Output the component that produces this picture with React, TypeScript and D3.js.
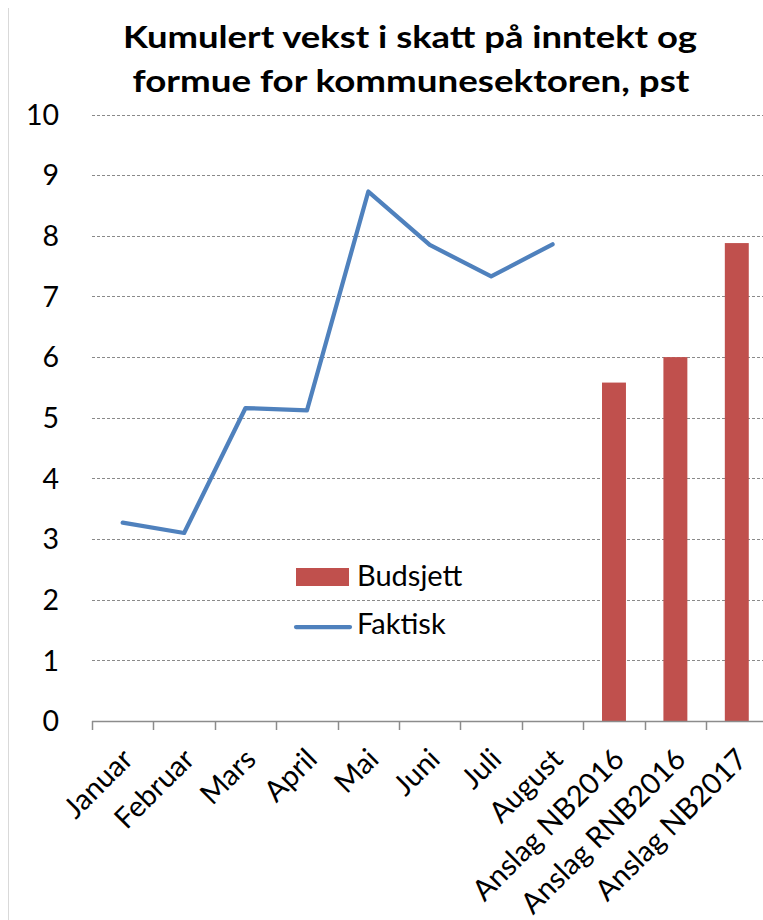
import React from "react";
import * as d3 from "d3";

const categories = [
  "Januar", "Februar", "Mars", "April", "Mai", "Juni", "Juli", "August",
  "Anslag NB2016", "Anslag RNB2016", "Anslag NB2017",
];
const faktisk = [3.27, 3.1, 5.16, 5.12, 8.73, 7.85, 7.33, 7.86];
const budsjett: (number | null)[] = [null, null, null, null, null, null, null, null, 5.58, 6.0, 7.88];
const yTicks = [0, 1, 2, 3, 4, 5, 6, 7, 8, 9, 10];
const titleLines = ["Kumulert vekst i skatt på inntekt og", "formue for kommunesektoren, pst"];

const W = 763, H = 920;
const FONT = "Lato, 'Open Sans', sans-serif";

export default function App() {
  const x = d3.scaleBand<string>().domain(categories).range([92, 767.5]).padding(0);
  const y = d3.scaleLinear().domain([0, 10]).range([721, 114.5]);
  const bw = x.bandwidth();
  const barW = bw * 0.39;
  const line = d3
    .line<number>()
    .x((_, i) => (x(categories[i]) as number) + bw / 2)
    .y((d) => y(d));

  return (
    <svg width={W} height={H} style={{ position: "absolute", left: 0, top: 0, background: "#fff" }}
      fontFamily={FONT}>
      <rect x={0} y={0} width={W} height={H} fill="#fff" />
      <line x1={8.5} x2={8.5} y1={8} y2={H} stroke="#d9d9d9" strokeWidth={1} />
      {/* title */}
      <text x={410} y={48} textAnchor="middle" fontWeight="bold" fontSize={30}
        textLength={574} lengthAdjust="spacingAndGlyphs" fill="#000">{titleLines[0]}</text>
      <text x={411} y={92} textAnchor="middle" fontWeight="bold" fontSize={30}
        textLength={557} lengthAdjust="spacingAndGlyphs" fill="#000">{titleLines[1]}</text>
      {/* gridlines */}
      {yTicks.filter((t) => t > 0).map((t) => (
        <line key={t} x1={92} x2={W} y1={Math.round(y(t)) + 0.5} y2={Math.round(y(t)) + 0.5}
          stroke="#8a8a8a" strokeWidth={1} strokeDasharray="3,2" />
      ))}
      {/* y labels */}
      {yTicks.map((t) => (
        <text key={t} x={59} y={y(t)} dy="0.36em" textAnchor="end" fontSize={28.5} fill="#000">{t}</text>
      ))}
      {/* bars */}
      {budsjett.map((v, i) =>
        v == null ? null : (
          <rect key={i} x={(x(categories[i]) as number) + bw / 2 - barW / 2} y={y(v)}
            width={barW} height={y(0) - y(v)} fill="#C0504D" />
        )
      )}
      {/* axis */}
      <line x1={92} x2={W} y1={721.5} y2={721.5} stroke="#8c8c8c" strokeWidth={1.5} />
      {categories.map((c, i) => (
        <line key={c} x1={Math.round(x(c) as number) + 0.5} x2={Math.round(x(c) as number) + 0.5}
          y1={721} y2={730} stroke="#8c8c8c" strokeWidth={1.5} />
      ))}
      {/* line */}
      <path d={line(faktisk) || ""} fill="none" stroke="#4F81BD" strokeWidth={4.25}
        strokeLinejoin="round" strokeLinecap="round" />
      {/* x labels */}
      {categories.map((c) => {
        const cx = (x(c) as number) + bw / 2;
        return (
          <text key={c} transform={`translate(${cx + 12},${761}) rotate(-45)`} textAnchor="end"
            fontSize={29} fill="#000">{c}</text>
        );
      })}
      {/* legend */}
      <rect x={296} y={568} width={53} height={18} fill="#C0504D" />
      <text x={357} y={586} fontSize={29} fill="#000">Budsjett</text>
      <line x1={296} x2={350} y1={627} y2={627} stroke="#4F81BD" strokeWidth={4.25} strokeLinecap="round" />
      <text x={357} y={634} fontSize={29} fill="#000">Faktisk</text>
    </svg>
  );
}
